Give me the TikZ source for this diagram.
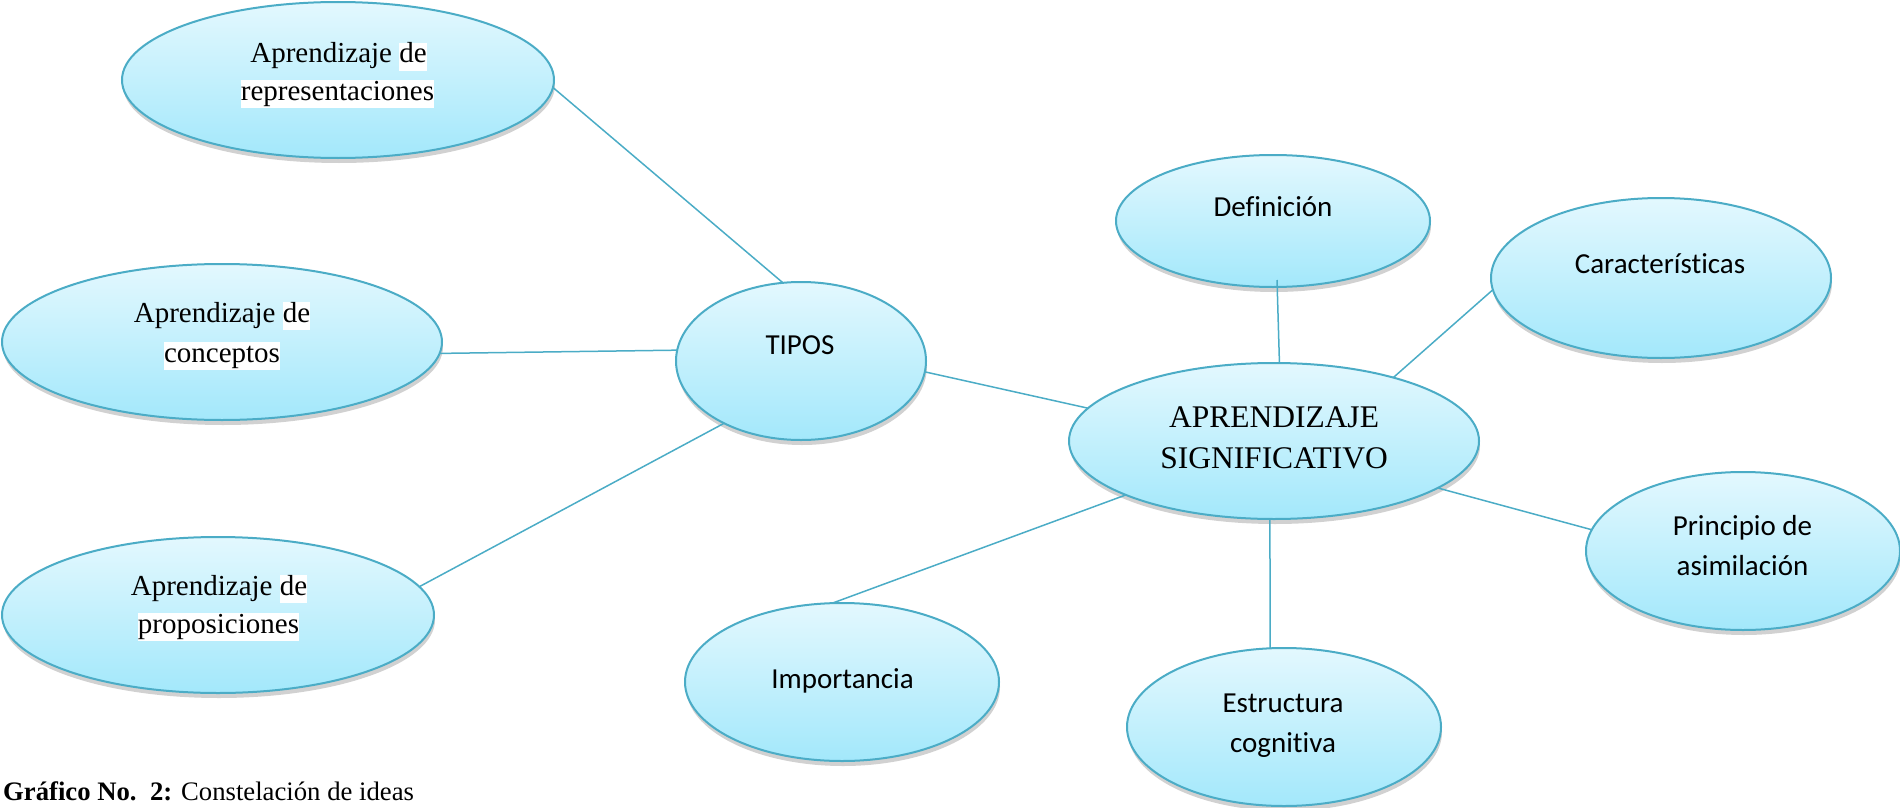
\documentclass[tikz,border=0pt]{standalone}
\usepackage{fontspec}
\setmainfont{Liberation Serif}
\newfontfamily\calfont[Ligatures=NoCommon]{Carlito}
\usetikzlibrary{shapes.geometric,shadows}
\definecolor{edge}{HTML}{4BACC6}
\definecolor{ctop}{HTML}{E3F8FE}
\definecolor{cbot}{HTML}{A3E8FB}
\newcommand{\hlw}[1]{{\setlength{\fboxsep}{0pt}\colorbox{white}{\rule[-8pt]{0pt}{28pt}#1}}}
\begin{document}
\begin{tikzpicture}[x=1pt,y=-1pt,
  bub/.style={ellipse, draw=edge, line width=2pt, top color=ctop, bottom color=cbot,
    inner sep=0pt, outer sep=0pt,
    drop shadow={shadow xshift=1pt, shadow yshift=-5pt, opacity=0.3, fill=black!60}},
  link/.style={draw=edge, line width=1.5pt},
  tms/.style={font=\fontsize{29}{37}\selectfont, anchor=base, inner sep=0pt},
  big/.style={font=\fontsize{31.5}{40}\selectfont, anchor=base, inner sep=0pt},
  cal/.style={font=\calfont\fontsize{29}{36}\selectfont, anchor=base, inner sep=0pt},
  captext/.style={font=\fontsize{26.7}{32}\selectfont, anchor=base west, inner sep=0pt}]
\useasboundingbox (0,0) rectangle (1900,808);

% ellipses
\node[bub, minimum width=432pt, minimum height=156pt] (repr) at (338,80) {};
\node[bub, minimum width=440pt, minimum height=156pt] (conc) at (222,342) {};
\node[bub, minimum width=432pt, minimum height=156pt] (prop) at (218,615) {};
\node[bub, minimum width=250pt, minimum height=158pt] (tipos) at (801,361) {};
\node[bub, minimum width=410pt, minimum height=156pt] (as) at (1274,441) {};
\node[bub, minimum width=314pt, minimum height=132pt] (def) at (1273,221) {};
\node[bub, minimum width=340pt, minimum height=160pt] (car) at (1661,278) {};
\node[bub, minimum width=314pt, minimum height=158pt] (prin) at (1743,551) {};
\node[bub, minimum width=314pt, minimum height=158pt] (estr) at (1284,727) {};
\node[bub, minimum width=314pt, minimum height=158pt] (imp) at (842,682) {};

% connectors
\draw[link] (repr.-2) -- (tipos.103);
\draw[link] (conc.-3) -- (tipos.175);
\draw[link] (prop.8) -- (tipos.219);
\draw[link] (tipos.-5) -- (as.170);
\draw[link] ([shift={(4pt,7pt)}]def.south) -- (as.86);
\draw[link] (car.184) -- (as.28);
\draw[link] (as.-16) -- (prin.172);
\draw[link] (as.-93) -- (estr.100);
\draw[link] (as.200) -- (imp.97);

% texts
\node[tms] (repr-a) at (338.5,63) {Aprendizaje \hlw{de}};
\node[tms] (repr-b) at (337.5,100) {\hlw{representaciones}};
\node[tms] (conc-a) at (222,322) {Aprendizaje \hlw{de}};
\node[tms] (conc-b) at (222,362) {\hlw{conceptos}};
\node[tms] (prop-a) at (219,595) {Aprendizaje \hlw{de}};
\node[tms] (prop-b) at (218.5,633) {\hlw{proposiciones}};
\node[cal] (tipos-t) at (800,354) {TIPOS};
\node[big] (as-a) at (1274,427) {APRENDIZAJE};
\node[big] (as-b) at (1274,468) {SIGNIFICATIVO};
\node[cal] (def-t) at (1273,216) {Definición};
\node[cal] (car-t) at (1660,273) {Características};
\node[cal] (prin-a) at (1742.5,535) {Principio de};
\node[cal] (prin-b) at (1742.5,575) {asimilación};
\node[cal] (estr-a) at (1283,712) {Estructura};
\node[cal] (estr-b) at (1283,752) {cognitiva};
\node[cal] (imp-t) at (842.5,688) {Importancia};

\node[captext] (caption) at (3,800) {\textbf{Gráfico No.\ \ 2:} Constelación de ideas};
\end{tikzpicture}
\end{document}
